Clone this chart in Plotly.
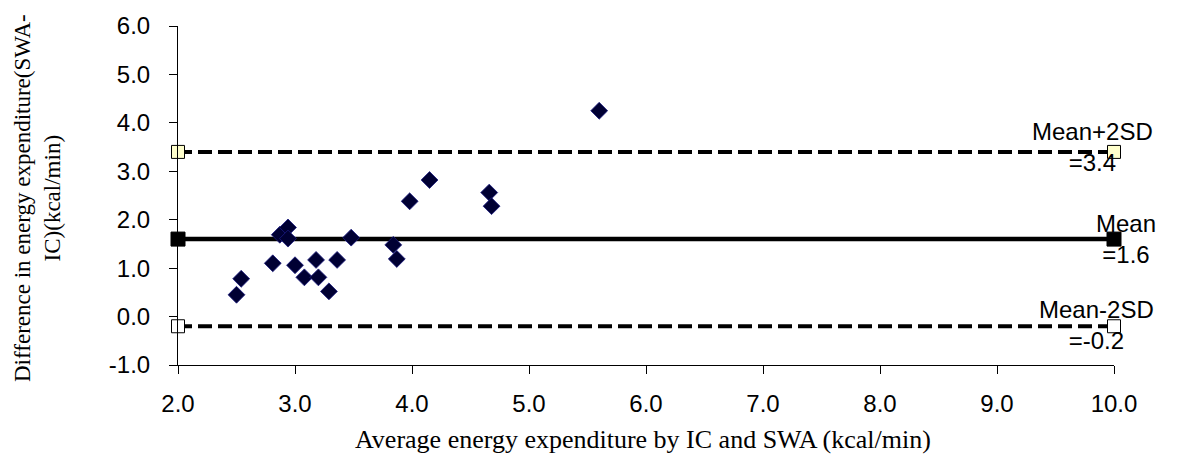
import plotly.graph_objects as go

# Data
avg_ee = [2.50, 2.54, 2.81, 2.87, 2.94, 2.94, 3.00, 3.08, 3.18, 3.20,
          3.29, 3.36, 3.48, 3.84, 3.87, 3.98, 4.15, 4.66, 4.68, 5.60]
diff_ee = [0.45, 0.78, 1.10, 1.69, 1.84, 1.61, 1.06, 0.81, 1.17, 0.81,
           0.52, 1.17, 1.63, 1.48, 1.19, 2.38, 2.82, 2.56, 2.28, 4.25]

line_x = [2.0, 10.0]
mean_val = 1.6
upper_val = 3.4
lower_val = -0.2
label_upper = ["Mean+2SD", "=3.4"]
label_mean = ["Mean", "=1.6"]
label_lower = ["Mean-2SD", "=-0.2"]

x_ticks = [2, 3, 4, 5, 6, 7, 8, 9, 10]
x_tick_text = ["2.0", "3.0", "4.0", "5.0", "6.0", "7.0", "8.0", "9.0", "10.0"]
y_ticks = [-1, 0, 1, 2, 3, 4, 5, 6]
y_tick_text = ["-1.0", "0.0", "1.0", "2.0", "3.0", "4.0", "5.0", "6.0"]

fig = go.Figure()

fig.add_trace(go.Scatter(
    x=line_x, y=[upper_val, upper_val], mode="lines+markers",
    line=dict(color="black", width=4, dash="14px,6px"),
    marker=dict(symbol="square", size=13, color="#FFFFCC",
                line=dict(color="black", width=1)),
    cliponaxis=False, showlegend=False, hoverinfo="skip"))

fig.add_trace(go.Scatter(
    x=line_x, y=[lower_val, lower_val], mode="lines+markers",
    line=dict(color="black", width=4, dash="14px,6px"),
    marker=dict(symbol="square", size=13, color="white",
                line=dict(color="black", width=1)),
    cliponaxis=False, showlegend=False, hoverinfo="skip"))

fig.add_trace(go.Scatter(
    x=line_x, y=[mean_val, mean_val], mode="lines+markers",
    line=dict(color="black", width=4.5),
    marker=dict(symbol="square", size=14, color="black",
                line=dict(color="black", width=1)),
    cliponaxis=False, showlegend=False, hoverinfo="skip"))

fig.add_trace(go.Scatter(
    x=avg_ee, y=diff_ee, mode="markers",
    marker=dict(symbol="diamond", size=13, color="#000033",
                line=dict(color="#1a1a80", width=0.8)),
    cliponaxis=False, showlegend=False))

sans = "Liberation Sans, Arial, sans-serif"
serif = "Liberation Serif, Times New Roman, serif"

for lab, yv, xs, ys in [(label_upper, upper_val, -22, 5),
                        (label_mean, mean_val, 12, 0),
                        (label_lower, lower_val, -18, 1)]:
    fig.add_annotation(x=line_x[1], y=yv, xref="x", yref="y",
                       text="<br>".join(lab), showarrow=False,
                       xanchor="center", yanchor="middle", align="center",
                       xshift=xs, yshift=ys,
                       font=dict(family=sans, size=24, color="black"))

fig.add_annotation(x=(643 - 178) / 936, y=(365 - 440) / 341,
                   xref="paper", yref="paper",
                   text="Average energy expenditure by IC and SWA (kcal/min)",
                   showarrow=False, xanchor="center", yanchor="middle",
                   font=dict(family=serif, size=26, color="black"))

fig.add_annotation(x=(38 - 178) / 936, y=(365 - 197) / 341,
                   xref="paper", yref="paper",
                   text="Difference in energy expenditure(SWA-<br>IC)(kcal/min)",
                   showarrow=False, xanchor="center", yanchor="middle",
                   textangle=-90, align="center",
                   font=dict(family=serif, size=23, color="black"))

fig.update_xaxes(range=[2, 10], tickvals=x_ticks, ticktext=x_tick_text,
                 showline=True, linecolor="black", linewidth=1,
                 ticks="outside", ticklen=8, tickcolor="black",
                 showgrid=False, zeroline=False, ticklabelstandoff=9,
                 tickfont=dict(family=sans, size=24, color="black"))
fig.update_yaxes(range=[-1, 6], tickvals=y_ticks, ticktext=y_tick_text,
                 showline=True, linecolor="black", linewidth=1,
                 ticks="outside", ticklen=8, tickcolor="black",
                 showgrid=False, zeroline=False, ticklabelstandoff=14,
                 tickfont=dict(family=sans, size=24, color="black"))

fig.update_layout(width=1178, height=460,
                  margin=dict(l=178, r=64, t=24, b=95),
                  plot_bgcolor="white", paper_bgcolor="white")

fig.write_html("out.html")
